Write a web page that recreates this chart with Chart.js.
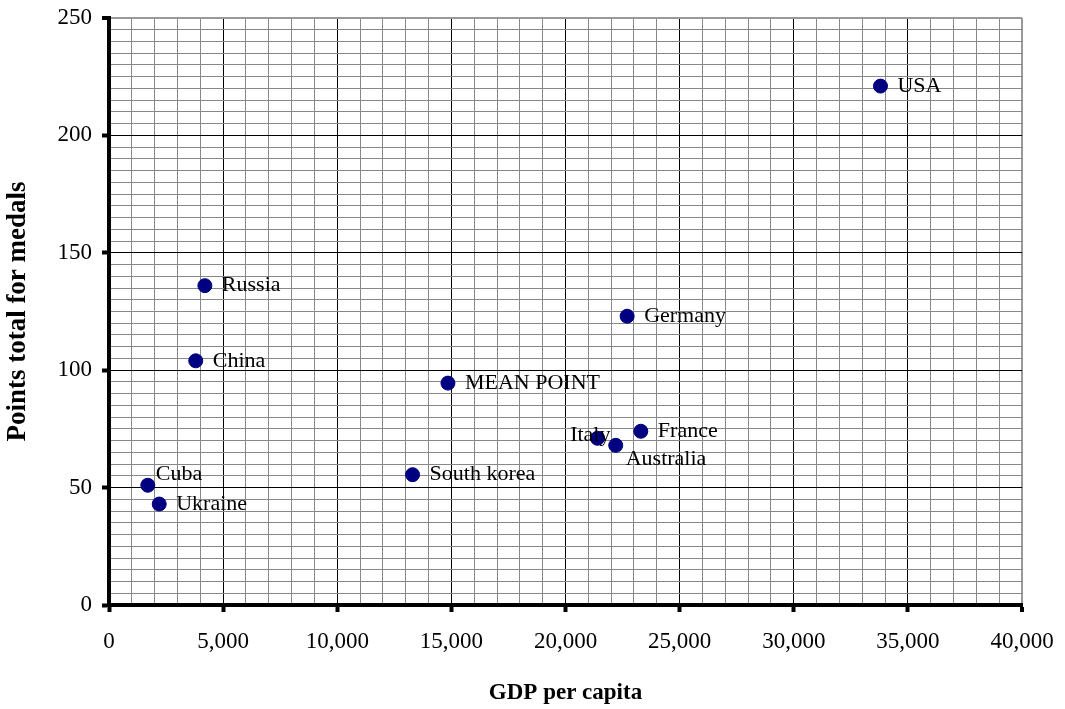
<!DOCTYPE html>
<html>
<head>
<meta charset="utf-8">
<script src="https://cdn.jsdelivr.net/npm/chart.js@4"></script>
<style>
  html,body{margin:0;padding:0;background:#fff;}
  #wrap{width:1065px;height:709px;}
</style>
</head>
<body>
<div id="wrap"><canvas id="c" width="1065" height="709"></canvas></div>
<script>
// data
const countries = ['USA','Russia','China','Germany','MEAN POINT','Italy','Australia','France','South korea','Cuba','Ukraine'];
const gdpPerCapita = [33800, 4200, 3800, 22700, 14850, 21400, 22200, 23300, 13300, 1700, 2200];
const medalPoints = [221, 136, 104, 123, 94.5, 71, 68, 74, 55.5, 51, 43];

const FONT = '"Liberation Serif", "Times New Roman", serif';

// where each label sits relative to its dot
const labelSide = { 'Italy':'left', 'Australia':'below', 'Cuba':'above' };

const labelPlugin = {
  id:'pointLabels',
  afterDatasetsDraw(chart){
    const ctx = chart.ctx;
    const meta = chart.getDatasetMeta(0);
    ctx.save();
    ctx.font = '22px ' + FONT;
    ctx.fillStyle = '#000';
    ctx.textBaseline = 'middle';
    meta.data.forEach((el,i)=>{
      const name = countries[i];
      const side = labelSide[name];
      if(side==='left'){
        ctx.textAlign='right'; ctx.fillText(name, el.x+13, el.y-3);
      } else if(side==='below'){
        ctx.textAlign='left'; ctx.fillText(name, el.x+10, el.y+14);
      } else if(side==='above'){
        ctx.textAlign='left'; ctx.fillText(name, el.x+8, el.y-11);
      } else {
        ctx.textAlign='left'; ctx.fillText(name, el.x+17, el.y);
      }
    });
    ctx.restore();
  }
};

const gridColor = (major, max) => (ctx)=>{
  const v = ctx.tick ? ctx.tick.value : 0;
  if(v===max) return '#999';
  return v % major === 0 ? '#000' : '#888';
};
const gridWidth = (max) => (ctx)=>{
  const v = ctx.tick ? ctx.tick.value : 0;
  return v===max ? 2 : 1;
};
const tickColor = (major) => (ctx)=>{
  const v = ctx.tick ? ctx.tick.value : 0;
  return v % major === 0 ? '#000' : 'rgba(0,0,0,0)';
};

new Chart(document.getElementById('c').getContext('2d'), {
  type:'scatter',
  data:{
    datasets:[{
      data: gdpPerCapita.map((x,i)=>({x, y: medalPoints[i]})),
      backgroundColor:'#000080',
      borderColor:'#000080',
      pointRadius:7,
      pointHoverRadius:7,
      borderWidth:1
    }]
  },
  options:{
    responsive:false,
    animation:false,
    layout:{ padding:{ top:18, right:43, left:0, bottom:0 } },
    plugins:{ legend:{display:false}, tooltip:{enabled:false} },
    scales:{
      x:{
        type:'linear', min:0, max:40000,
        afterFit:(s)=>{ s.height = 104; s.paddingLeft = 0; s.paddingRight = 0; },
        border:{ display:true, color:'#000', width:4 },
        grid:{ color:gridColor(5000,40000), lineWidth:gridWidth(40000), tickLength:7, tickColor:tickColor(5000), tickWidth:4 },
        ticks:{
          stepSize:1000, autoSkip:false, maxRotation:0, minRotation:0, padding:16,
          color:'#000', font:{ family:FONT, size:23 },
          callback:(v)=> v % 5000 === 0 ? v.toLocaleString('en-US') : ''
        },
        title:{ display:true, text:'GDP per capita', color:'#000', font:{ family:FONT, size:23, weight:'bold' }, padding:{ top:0, bottom:2 } }
      },
      y:{
        type:'linear', min:0, max:250,
        afterFit:(s)=>{ s.width = 109; s.paddingTop = 0; s.paddingBottom = 0; },
        border:{ display:true, color:'#000', width:4 },
        grid:{ color:gridColor(50,250), lineWidth:gridWidth(250), tickLength:7, tickColor:tickColor(50), tickWidth:4 },
        ticks:{
          stepSize:5, autoSkip:false, padding:10,
          color:'#000', font:{ family:FONT, size:23 },
          callback:(v)=> v % 50 === 0 ? String(v) : ''
        },
        title:{ display:true, text:'Points total for medals', color:'#000', font:{ family:FONT, size:27, weight:'bold' }, padding:{ top:2, bottom:0 } }
      }
    }
  },
  plugins:[labelPlugin]
});
</script>
</body>
</html>
